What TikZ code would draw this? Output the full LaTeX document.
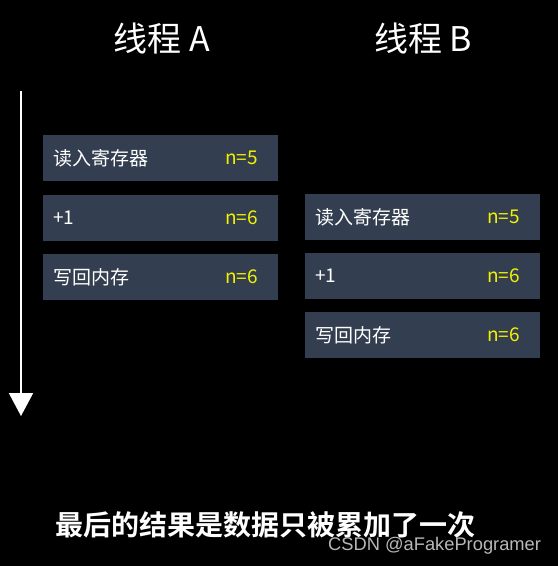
\documentclass[tikz,border=0pt]{standalone}
\usepackage{fontspec}
\newfontfamily\cjk{Noto Sans CJK SC}
\newfontfamily\cjkbold{Noto Sans CJK SC Bold}
\newfontfamily\wm{Liberation Sans}
\usetikzlibrary{arrows.meta}
\definecolor{boxfill}{HTML}{333F50}
\definecolor{valyellow}{HTML}{F2F200}
\definecolor{wmgray}{HTML}{B8B8B8}
\tikzset{
  stepbox/.style={fill=boxfill, draw=none, minimum width=235pt, minimum height=46pt, inner sep=0pt, anchor=north west},
  lbl/.style={anchor=west, text=white, font=\cjk\fontsize{19}{22}\selectfont, inner sep=0pt},
  val/.style={anchor=west, text=valyellow, font=\cjk\fontsize{19}{22}\selectfont, inner sep=0pt},
  title/.style={text=white, font=\cjk\fontsize{34}{38}\selectfont, inner sep=0pt},
}
\begin{document}
\begin{tikzpicture}[x=1pt,y=-1pt]
\fill[black] (0,0) rectangle (558,566);
\useasboundingbox (0,0) rectangle (558,566);
\node[title] (tA) at (162,39) {线程 A};
\node[title] (tB) at (423,39) {线程 B};
% time arrow
\coordinate (ts) at (21,91);
\coordinate (te) at (21,416);
\draw[white, line width=2pt, -{Triangle[width=24pt,length=23pt]}] (ts) -- (te);
% thread A boxes
\node[stepbox] (a1) at (43,135) {};
\node[stepbox] (a2) at (43,195) {};
\node[stepbox] (a3) at (43,254) {};
\node[lbl] (a1l) at (53,158) {读入寄存器};
\node[val] (a1v) at (225,158) {n=5};
\node[lbl] (a2l) at (53,218) {+1};
\node[val] (a2v) at (225,218) {n=6};
\node[lbl] (a3l) at (53,277) {写回内存};
\node[val] (a3v) at (225,277) {n=6};
% thread B boxes
\node[stepbox] (b1) at (305,194) {};
\node[stepbox] (b2) at (305,253) {};
\node[stepbox] (b3) at (305,312) {};
\node[lbl] (b1l) at (315,217) {读入寄存器};
\node[val] (b1v) at (487,217) {n=5};
\node[lbl] (b2l) at (315,276) {+1};
\node[val] (b2v) at (487,276) {n=6};
\node[lbl] (b3l) at (315,335) {写回内存};
\node[val] (b3v) at (487,335) {n=6};
% caption
\node[text=white, font=\cjkbold\fontsize{28}{32}\selectfont, inner sep=0pt] (cap) at (266,525) {最后的结果是数据只被累加了一次};
\node[text=wmgray, font=\wm\fontsize{18.3}{22}\selectfont, inner sep=0pt, anchor=west] (wm) at (328,546) {CSDN @aFakeProgramer};
\end{tikzpicture}
\end{document}
